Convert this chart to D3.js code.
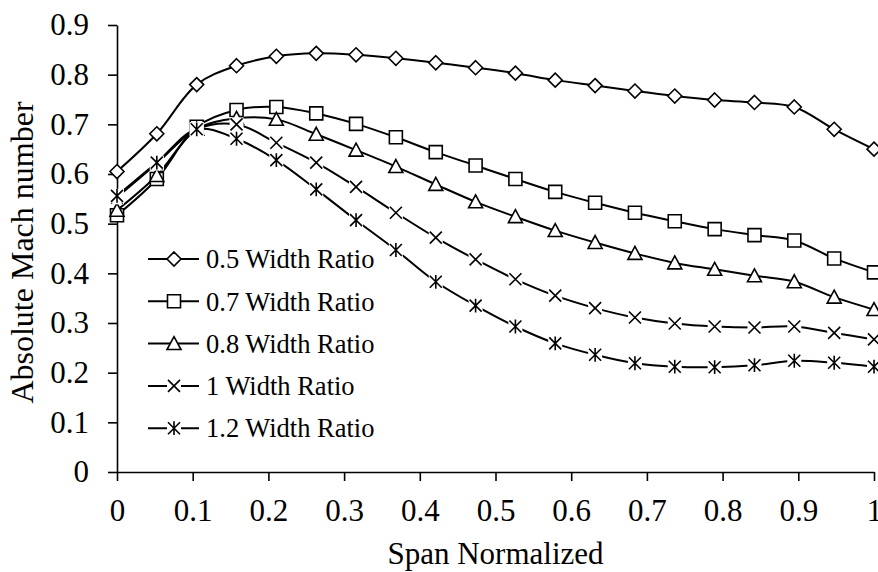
<!DOCTYPE html>
<html>
<head>
<meta charset="utf-8">
<script src="https://cdn.jsdelivr.net/npm/d3@7"></script>
<style>
  html, body { margin: 0; padding: 0; background: #fff; }
  svg { display: block; }
</style>
</head>
<body>
<figure id="chart" style="margin:0"></figure>
<script>
// span positions (normalized)
const span = [0, 0.0526, 0.1053, 0.1579, 0.2105, 0.2632, 0.3158, 0.3684, 0.4211, 0.4737,
  0.5263, 0.5789, 0.6316, 0.6842, 0.7368, 0.7895, 0.8421, 0.8947, 0.9474, 1];

const w05 = [0.605, 0.681, 0.780, 0.818, 0.837, 0.843, 0.840, 0.833, 0.824, 0.814,
  0.803, 0.789, 0.778, 0.767, 0.757, 0.749, 0.744, 0.735, 0.690, 0.650];
const w07 = [0.517, 0.590, 0.695, 0.729, 0.735, 0.722, 0.701, 0.674, 0.644, 0.617,
  0.590, 0.564, 0.542, 0.522, 0.505, 0.489, 0.477, 0.466, 0.430, 0.402];
const w08 = [0.527, 0.597, 0.690, 0.712, 0.710, 0.680, 0.648, 0.615, 0.579, 0.544,
  0.514, 0.486, 0.462, 0.440, 0.421, 0.408, 0.395, 0.383, 0.352, 0.327];
const w10 = [0.553, 0.621, 0.690, 0.700, 0.663, 0.623, 0.574, 0.522, 0.472, 0.428,
  0.388, 0.355, 0.330, 0.311, 0.299, 0.293, 0.291, 0.293, 0.280, 0.267];
const w12 = [0.556, 0.623, 0.690, 0.671, 0.628, 0.569, 0.507, 0.447, 0.383, 0.335,
  0.293, 0.259, 0.236, 0.219, 0.212, 0.211, 0.215, 0.224, 0.220, 0.212];

const seriesNames = ["0.5 Width Ratio", "0.7 Width Ratio", "0.8 Width Ratio", "1 Width Ratio", "1.2 Width Ratio"];
const seriesMarkers = ["diamond", "square", "triangle", "cross", "star"];

const xTicks = [0, 0.1, 0.2, 0.3, 0.4, 0.5, 0.6, 0.7, 0.8, 0.9, 1];
const yTicks = [0, 0.1, 0.2, 0.3, 0.4, 0.5, 0.6, 0.7, 0.8, 0.9];

const xTitle = "Span Normalized";
const yTitle = "Absolute Mach number";

const W = 878, H = 572;
const margin = { left: 117, right: 4, top: 25, bottom: 100 };
const font = "'Liberation Serif', 'Times New Roman', serif";

const series = [w05, w07, w08, w10, w12].map((vals, i) => ({
  name: seriesNames[i],
  marker: seriesMarkers[i],
  values: vals.map((v, j) => ({ x: span[j], y: v }))
}));

const svg = d3.select("figure#chart")
  .append("svg")
  .attr("width", W)
  .attr("height", H);

const x = d3.scaleLinear().domain([0, 1]).range([margin.left, W - margin.right]);
const y = d3.scaleLinear().domain([0, 0.9]).range([H - margin.bottom, margin.top]);

// marker shapes, relative to the point
const shapes = {
  diamond: r => `M0,${-r}L${r},0L0,${r}L${-r},0Z`,
  square: r => `M${-r},${-r}H${r}V${r}H${-r}Z`,
  triangle: r => `M0,${-r}L${r},${r * 0.85}L${-r},${r * 0.85}Z`,
  cross: r => `M${-r},${-r}L${r},${r}M${r},${-r}L${-r},${r}`,
  star: r => `M${-r},${-r}L${r},${r}M${r},${-r}L${-r},${r}M0,${-r * 1.15}V${r * 1.15}`
};
const markerSize = { diamond: 7, square: 6.5, triangle: 7, cross: 6, star: 6 };

function drawMarker(g, kind) {
  const r = markerSize[kind];
  if (kind === "cross" || kind === "star") {
    g.append("rect")
      .attr("x", -r - 1).attr("y", -r - 1)
      .attr("width", 2 * r + 2).attr("height", 2 * r + 2)
      .attr("fill", "#fff");
  }
  g.append("path")
    .attr("d", shapes[kind](r))
    .attr("fill", (kind === "cross" || kind === "star") ? "none" : "#fff")
    .attr("stroke", "#000")
    .attr("stroke-width", 1.6);
}

// axes
const xAxis = svg.append("g")
  .attr("transform", `translate(0,${y(0)})`)
  .call(d3.axisBottom(x).tickValues(xTicks).tickFormat(d => String(d)).tickSize(9).tickSizeOuter(0).tickPadding(18));

const yAxis = svg.append("g")
  .attr("transform", `translate(${x(0)},0)`)
  .call(d3.axisLeft(y).tickValues(yTicks).tickFormat(d => String(d)).tickSize(9).tickSizeOuter(0).tickPadding(19));

[xAxis, yAxis].forEach(a => {
  a.select(".domain").attr("stroke", "#000").attr("stroke-width", 1.6);
  a.selectAll(".tick line").attr("stroke", "#000").attr("stroke-width", 1.6);
  a.selectAll(".tick text")
    .attr("fill", "#000")
    .style("font-family", font)
    .style("font-size", "31px");
});

svg.append("text")
  .attr("x", (x(0) + x(1)) / 2)
  .attr("y", 564)
  .attr("text-anchor", "middle")
  .style("font-family", font)
  .style("font-size", "31px")
  .text(xTitle);

svg.append("text")
  .attr("transform", `translate(33,${(y(0) + y(0.9)) / 2 + 4}) rotate(-90)`)
  .attr("text-anchor", "middle")
  .style("font-family", font)
  .style("font-size", "32px")
  .text(yTitle);

// lines
const line = d3.line()
  .x(d => x(d.x))
  .y(d => y(d.y))
  .curve(d3.curveCatmullRom.alpha(0.5));

series.forEach(s => {
  svg.append("path")
    .datum(s.values)
    .attr("d", line)
    .attr("fill", "none")
    .attr("stroke", "#000")
    .attr("stroke-width", 2);
});

series.forEach(s => {
  svg.selectAll(null)
    .data(s.values)
    .enter()
    .append("g")
    .attr("transform", d => `translate(${x(d.x)},${y(d.y)})`)
    .each(function () { drawMarker(d3.select(this), s.marker); });
});

// legend
const legend = svg.append("g").attr("transform", "translate(148,259)");
series.forEach((s, i) => {
  const row = legend.append("g").attr("transform", `translate(0,${i * 42.3})`);
  row.append("line")
    .attr("x1", 0).attr("x2", 51)
    .attr("stroke", "#000")
    .attr("stroke-width", 2);
  const m = row.append("g").attr("transform", "translate(26,0)");
  drawMarker(m, s.marker);
  row.append("text")
    .attr("x", 58)
    .attr("dy", "0.35em")
    .style("font-family", font)
    .style("font-size", "26.5px")
    .text(s.name);
});
</script>
</body>
</html>
